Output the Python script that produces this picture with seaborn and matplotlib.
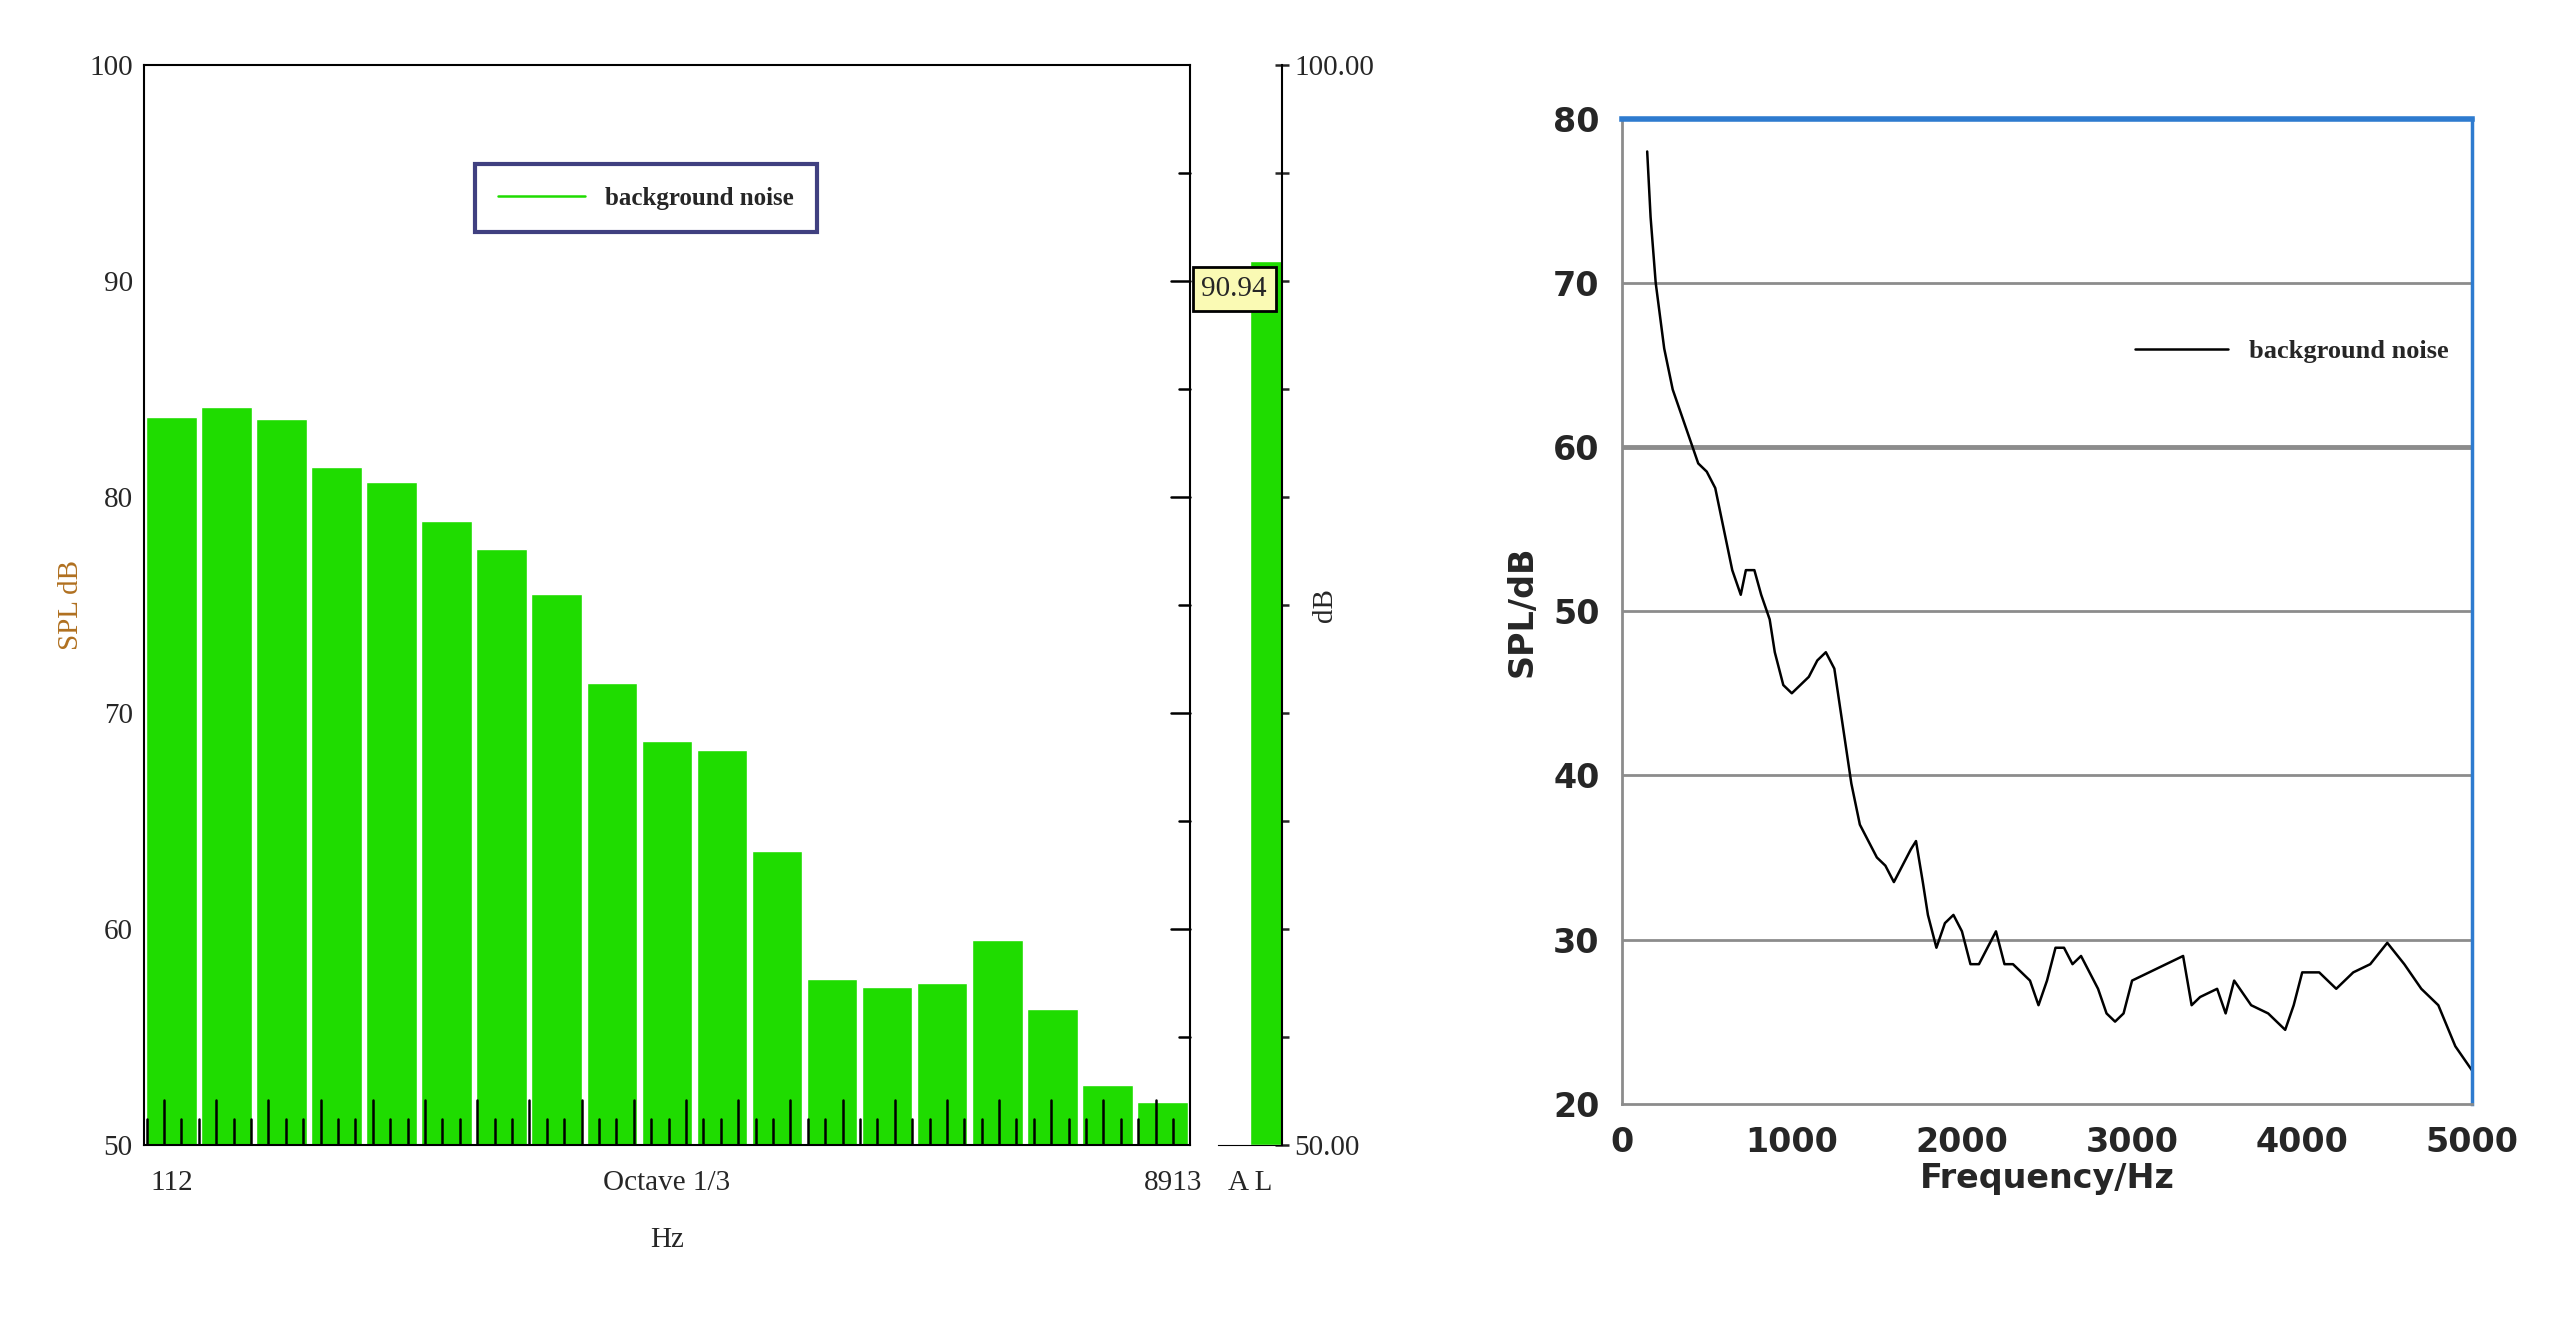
import numpy as np
import matplotlib
matplotlib.use("Agg")
import matplotlib.pyplot as plt
import seaborn as sns
from matplotlib.ticker import MultipleLocator

# third-octave band levels (left panel)
band_idx = list(range(19))
band_spl = [83.7, 84.2, 83.6, 81.4, 80.7, 78.9, 77.6, 75.5, 71.4, 68.7,
            68.3, 63.6, 57.7, 57.3, 57.5, 59.5, 56.3, 52.8, 52.0]
al_value = 90.94

# spectrum (right panel)
freq = [150, 170, 200, 250, 300, 350, 400, 450, 500, 550, 600, 650, 700, 730, 780,
        820, 870, 900, 950, 1000, 1050, 1100, 1150, 1200, 1250, 1300, 1350, 1400,
        1450, 1500, 1550, 1600, 1650, 1700, 1730, 1770, 1800, 1850, 1900, 1950,
        2000, 2050, 2100, 2150, 2200, 2250, 2300, 2400, 2450, 2500, 2550, 2600,
        2650, 2700, 2800, 2850, 2900, 2950, 3000, 3100, 3200, 3300, 3350, 3400,
        3500, 3550, 3600, 3700, 3800, 3900, 3950, 4000, 4100, 4200, 4300, 4400,
        4500, 4600, 4700, 4800, 4900, 5000]
spl = [78, 74, 70, 66, 63.5, 62, 60.5, 59, 58.5, 57.5, 55, 52.5, 51, 52.5, 52.5,
       51, 49.5, 47.5, 45.5, 45, 45.5, 46, 47, 47.5, 46.5, 43, 39.5, 37,
       36, 35, 34.5, 33.5, 34.5, 35.5, 36, 33.5, 31.5, 29.5, 31, 31.5,
       30.5, 28.5, 28.5, 29.5, 30.5, 28.5, 28.5, 27.5, 26, 27.5, 29.5, 29.5,
       28.5, 29, 27, 25.5, 25, 25.5, 27.5, 28, 28.5, 29, 26, 26.5,
       27, 25.5, 27.5, 26, 25.5, 24.5, 26, 28, 28, 27, 28, 28.5,
       29.8, 28.5, 27, 26, 23.5, 22]

sns.set_style("white")
green = "#1fdc00"
lfont = dict(family="Liberation Serif", fontsize=21)

fig = plt.figure(figsize=(25.7, 13.33), dpi=100)

# ---- left: band chart
ax1 = fig.add_axes([0.056, 0.141, 0.407, 0.81])
sns.barplot(x=band_idx, y=band_spl, color=green, saturation=1, width=0.92, ax=ax1)
for p in ax1.patches:
    p.set_y(50)
    p.set_height(p.get_height() - 50)
ax1.set_ylim(50, 100)
ax1.set_xlim(-0.5, 18.5)
ax1.set_yticks([50, 60, 70, 80, 90, 100])
ax1.set_yticklabels(["50", "60", "70", "80", "90", "100"], **lfont)
ax1.set_xticks([0, 9, 18.2])
ax1.set_xticklabels(["112", "Octave 1/3", "8913"], **lfont)
ax1.tick_params(axis="x", length=0, pad=18)
ax1.tick_params(axis="y", length=0, pad=8)
ax1.set_xlabel("Hz", labelpad=22, **lfont)
ax1.set_ylabel("SPL dB", color="#b07020", **lfont)
for s in ax1.spines.values():
    s.set_color("black")
    s.set_linewidth(1.5)
# inner tick spikes along the bottom
spikes = np.arange(-0.45, 18.5, 0.316)
for i, xs in enumerate(spikes):
    ax1.plot([xs, xs], [50, 52.1 if i % 3 == 1 else 51.2], color="black", lw=1.8)
# right spine ticks
for yv in np.arange(55, 100, 5):
    ax1.plot([18.5 - (0.35 if yv % 10 == 0 else 0.2), 18.5], [yv, yv], color="black",
             lw=1.8, clip_on=False)
leg = ax1.legend(handles=[plt.Line2D([], [], color=green, lw=1.8)],
                 labels=["background noise"], loc="upper center",
                 bbox_to_anchor=(0.48, 0.92), frameon=True, fancybox=False,
                 prop={"family": "Liberation Serif", "weight": "bold", "size": 18},
                 handlelength=3.5, borderpad=0.9)
leg.get_frame().set_edgecolor("#101060")
leg.get_frame().set_linewidth(3)

# ---- AL bar
ax2 = fig.add_axes([0.474, 0.141, 0.025, 0.81])
ax2.bar([0.75], [al_value - 50], bottom=50, width=0.5, color=green)
ax2.set_xlim(0, 1)
ax2.set_ylim(50, 100)
for k in ["top", "left"]:
    ax2.spines[k].set_visible(False)
ax2.spines["right"].set_color("black")
ax2.spines["right"].set_linewidth(1.5)
ax2.spines["bottom"].set_color("black")
ax2.yaxis.tick_right()
ax2.set_yticks([50, 100])
ax2.set_yticklabels(["50.00", "100.00"], **lfont)
ax2.yaxis.set_minor_locator(MultipleLocator(5))
ax2.tick_params(axis="y", which="both", direction="inout", length=10, width=1.8)
ax2.set_xticks([0.5])
ax2.set_xticklabels(["A L"], **lfont)
ax2.tick_params(axis="x", length=0, pad=18)
ax2.yaxis.set_label_position("right")
ax2.set_ylabel("dB", labelpad=-45, **lfont)
ax2.text(0.25, al_value - 1.3, f"{al_value:.2f}", ha="center", va="center",
         clip_on=False, zorder=5, **lfont,
         bbox=dict(boxstyle="square,pad=0.3", fc="#fafab4", ec="black", lw=2))

# ---- right: spectrum
ax3 = fig.add_axes([0.631, 0.172, 0.331, 0.739])
sns.lineplot(x=freq, y=spl, color="black", lw=1.8, ax=ax3, label="background noise")
ax3.set_xlim(0, 5000)
ax3.set_ylim(20, 80)
ax3.set_xticks(range(0, 5001, 1000))
ax3.set_yticks(range(20, 81, 10))
for yv in range(30, 80, 10):
    ax3.axhline(yv, color="#8c8c8c", lw=3.5 if yv == 60 else 2, zorder=0)
for lab in ax3.get_xticklabels() + ax3.get_yticklabels():
    lab.set_fontsize(24)
    lab.set_fontweight("bold")
ax3.set_xlabel("Frequency/Hz", fontsize=24, fontweight="bold", labelpad=2)
ax3.set_ylabel("SPL/dB", fontsize=24, fontweight="bold", labelpad=10)
ax3.tick_params(axis="both", direction="out", length=8, color="#8c8c8c", width=1.8,
                pad=8)
ax3.spines["left"].set_color("#8c8c8c")
ax3.spines["bottom"].set_color("#8c8c8c")
ax3.spines["left"].set_linewidth(2)
ax3.spines["bottom"].set_linewidth(2)
ax3.spines["top"].set_color("#2e7bcf")
ax3.spines["top"].set_linewidth(4)
ax3.spines["right"].set_color("#2e7bcf")
ax3.spines["right"].set_linewidth(2.5)
ax3.legend(loc="upper right", bbox_to_anchor=(1.0, 0.8), frameon=False,
           prop={"family": "Liberation Serif", "weight": "bold", "size": 19},
           handlelength=3.5)

fig.savefig("out.png", dpi=100)
